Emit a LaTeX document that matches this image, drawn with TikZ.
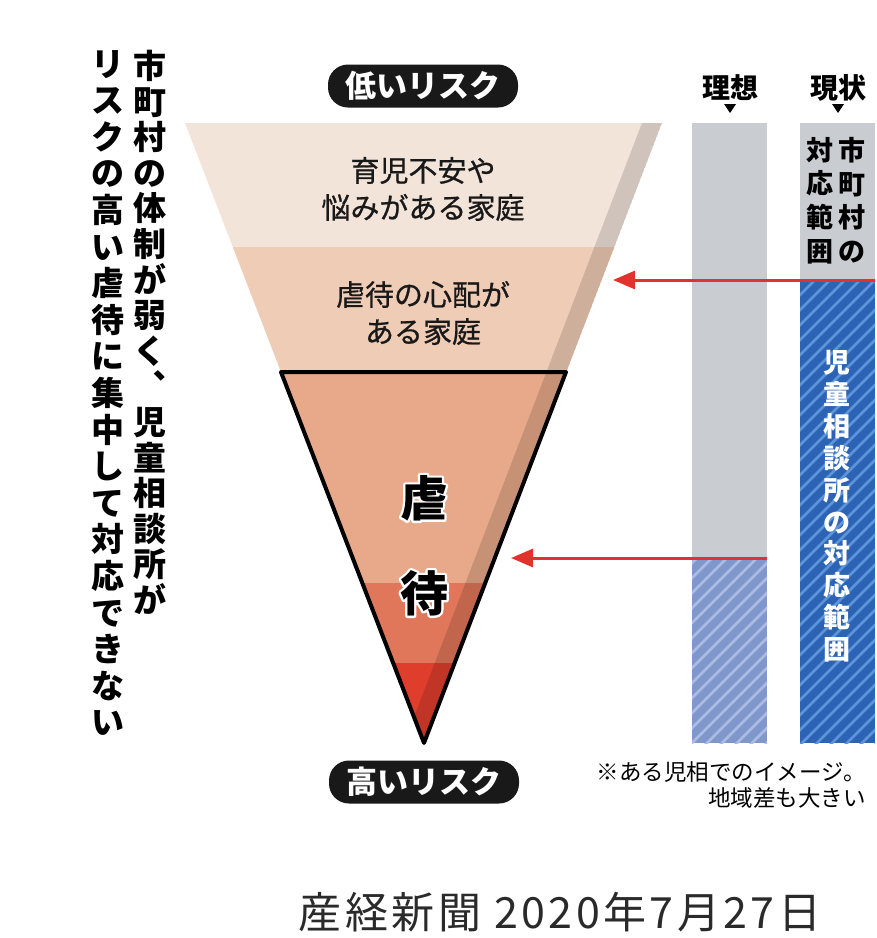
\documentclass[tikz,border=0pt]{standalone}
\usepackage{fontspec}
\newfontfamily\jp{Noto Sans CJK JP}
\usetikzlibrary{arrows.meta}
\definecolor{bandA}{HTML}{F3E4DA}
\definecolor{bandB}{HTML}{EFCCB6}
\definecolor{triA}{HTML}{E8A98A}
\definecolor{triB}{HTML}{E1775A}
\definecolor{triC}{HTML}{E03E2C}
\definecolor{bargray}{HTML}{C9CDD1}
\definecolor{blueA}{HTML}{2C63B4}
\definecolor{blueAs}{HTML}{5E95DA}
\definecolor{blueB}{HTML}{7F97CB}
\definecolor{blueBs}{HTML}{AABCE3}
\definecolor{redarrow}{HTML}{E0332E}
\definecolor{captiongray}{HTML}{2A2A2A}
\newcommand\outlinedchar[1]{%
  \makebox[0pt][l]{\color{white}\special{pdf:literal direct 1 Tr 4.6 w 1 j 1 1 1 RG}#1\special{pdf:literal direct 0 Tr}}%
  #1}
\tikzset{
  pill/.style={fill=black!90, rounded corners=20pt, minimum width=190pt, minimum height=43pt, text=white, font=\jp\bfseries\fontsize{31}{31}\selectfont, inner sep=0pt},
  bandtext/.style={align=center, font=\jp\fontsize{29}{37}\selectfont\addfontfeature{FakeBold=0.7}, text=black!90, inner sep=0pt},
  vbigR/.style={align=center, font=\jp\bfseries\fontsize{33}{35.6}\selectfont, inner sep=0pt, anchor=north},
  vbigL/.style={align=center, font=\jp\bfseries\fontsize{33}{36.6}\selectfont, inner sep=0pt, anchor=north},
  vbar/.style={align=center, font=\jp\bfseries\fontsize{27}{33.7}\selectfont, inner sep=0pt, anchor=north},
  barhead/.style={font=\jp\bfseries\fontsize{28}{28}\selectfont, inner sep=0pt},
  bigchar/.style={font=\jp\bfseries\fontsize{48}{48}\selectfont, inner sep=0pt},
  redarr/.style={draw=redarrow, line width=3pt, -{Triangle[length=22pt,width=18pt]}},
  notetext/.style={align=right, font=\jp\fontsize{22.5}{26}\selectfont, inner sep=0pt, anchor=east},
}
\begin{document}
\begin{tikzpicture}[x=1pt,y=-1pt]
\useasboundingbox[fill=white] (0,0) rectangle (877,938);
% funnel
\coordinate (fTL) at (185,123);
\coordinate (fTR) at (662,123);
\coordinate (apex) at (424,743);
\coordinate (tL) at (281,372);
\coordinate (tR) at (566,372);
\begin{scope}
  \clip (fTL) -- (fTR) -- (apex) -- cycle;
  \fill[bandA] (150,110) rectangle (700,247);
  \fill[bandB] (150,247) rectangle (700,372);
  \fill[triA] (150,372) rectangle (700,583);
  \fill[triB] (150,583) rectangle (700,663);
  \fill[triC] (150,663) rectangle (700,760);
  \fill[black, opacity=0.14] (642,123) -- (662,123) -- (apex) -- (414,717) -- cycle;
\end{scope}
\draw[line width=4pt, line join=round] (tL) -- (tR) -- (apex) -- cycle;
% funnel texts
\node[bandtext] (t1) at (423,189) {育児不安や\\悩みがある家庭};
\node[bandtext] (t2) at (423,313) {虐待の心配が\\ある家庭};
\node[bigchar] (g1) at (424,498) {\outlinedchar{虐}};
\node[bigchar] (g2) at (424,593) {\outlinedchar{待}};
% pills
\node[pill] (low) at (423,86) {低いリスク};
\node[pill] (high) at (424,782) {高いリスク};
% bars
\node[barhead] (ideal) at (730,88) {理想};
\node[barhead] (now) at (838,88) {現状};
\fill (724,104) -- (736,104) -- (730,113) -- cycle;
\fill (832,104) -- (844,104) -- (838,113) -- cycle;
\fill[bargray] (692,123) rectangle (767,743);
\fill[bargray] (800,123) rectangle (875,280);
\begin{scope}
  \clip (692,558) rectangle (767,743);
  \fill[blueB] (692,558) rectangle (767,743);
  \foreach \k in {480,495,...,790}{
    \draw[blueBs, line width=2.5pt] (\k,760) -- ++(260,-260);
  }
\end{scope}
\begin{scope}
  \clip (800,280) rectangle (875,743);
  \fill[blueA] (800,280) rectangle (875,743);
  \foreach \k in {305,320,...,890}{
    \draw[blueAs, line width=2.5pt] (\k,760) -- ++(520,-520);
  }
\end{scope}
\node[vbar] (cityR) at (852,137) {市\\町\\村\\の};
\node[vbar] (cityL) at (820,137) {対\\応\\範\\囲};
\node[vbar, text=white, font=\jp\bfseries\fontsize{27}{31.9}\selectfont] (jisou) at (837,350) {児\\童\\相\\談\\所\\の\\対\\応\\範\\囲};
% arrows
\coordinate (a1s) at (875,280);
\coordinate (a1e) at (613,280);
\coordinate (a2s) at (767,558);
\coordinate (a2e) at (511,558);
\draw[redarr] (a1s) -- (a1e);
\draw[redarr] (a2s) -- (a2e);
% left vertical text
\node[vbigR] (leftR) at (150,50) {市\\町\\村\\の\\体\\制\\が\\弱\\く\\︑\\児\\童\\相\\談\\所\\が};
\node[vbigL] (leftL) at (108,50) {リ\\ス\\ク\\の\\高\\い\\虐\\待\\に\\集\\中\\し\\て\\対\\応\\で\\き\\な\\い};
% note
\node[notetext] (note) at (866,785) {※ある児相でのイメージ。\\地域差も大きい};
% caption
\node[font=\jp\fontsize{43}{43}\selectfont\addfontfeature{LetterSpace=8}, text=captiongray, inner sep=0pt] (cap) at (560,912) {産経新聞 2020年7月27日};
\end{tikzpicture}
\end{document}
